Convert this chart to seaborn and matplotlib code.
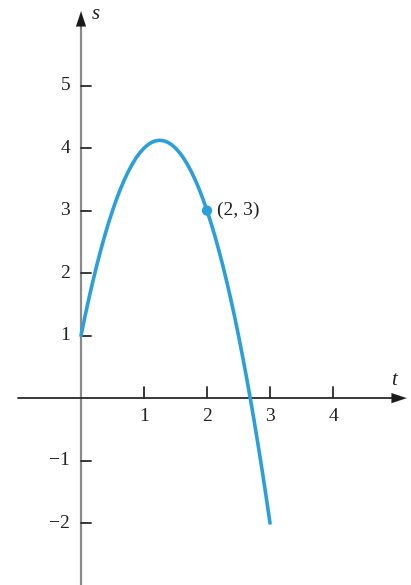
import matplotlib
matplotlib.use("Agg")
import matplotlib.pyplot as plt
import seaborn as sns
import pandas as pd

# Position s versus time t
t_values = [0, 0.0625, 0.125, 0.1875, 0.25, 0.3125, 0.375, 0.4375, 0.5,
            0.5625, 0.625, 0.6875, 0.75, 0.8125, 0.875, 0.9375, 1.0,
            1.0625, 1.125, 1.1875, 1.25, 1.3125, 1.375, 1.4375, 1.5,
            1.5625, 1.625, 1.6875, 1.75, 1.8125, 1.875, 1.9375, 2.0,
            2.0625, 2.125, 2.1875, 2.25, 2.3125, 2.375, 2.4375, 2.5,
            2.5625, 2.625, 2.6875, 2.75, 2.8125, 2.875, 2.9375, 3.0]
s_values = [1.0, 1.305, 1.594, 1.867, 2.125, 2.367, 2.594, 2.805, 3.0,
            3.180, 3.344, 3.492, 3.625, 3.742, 3.844, 3.930, 4.0,
            4.055, 4.094, 4.117, 4.125, 4.117, 4.094, 4.055, 4.0,
            3.930, 3.844, 3.742, 3.625, 3.492, 3.344, 3.180, 3.0,
            2.805, 2.594, 2.367, 2.125, 1.867, 1.594, 1.305, 1.0,
            0.680, 0.344, -0.008, -0.375, -0.758, -1.156, -1.570, -2.0]
point_t = [2]
point_s = [3]
point_label = "(2, 3)"
x_ticks = [1, 2, 3, 4]
y_ticks = [-2, -1, 1, 2, 3, 4, 5]

curve = pd.DataFrame({"t": t_values, "s": s_values})
marked = pd.DataFrame({"t": point_t, "s": point_s})

sns.set_theme(style="white")
plt.rcParams["font.family"] = ["Liberation Serif", "DejaVu Serif"]

blue = "#2b9fd9"
fig = plt.figure(figsize=(4.11, 5.85), dpi=100)
ax = fig.add_axes([0, 0, 1, 1])
ax.set_xlim(-1.286, 5.238)
ax.set_ylim(-2.99, 6.37)
ax.axis("off")

# coordinate axes
ax.plot([0, 0], [-3.1, 6.0], color="#8a8a8a", lw=1.6, zorder=1)
ax.plot([-1.0, 5.0], [0, 0], color="#2a2a2a", lw=1.3, zorder=1)
ax.annotate("", xy=(0, 6.19), xytext=(0, 5.9),
            arrowprops=dict(arrowstyle="-|>,head_length=0.9,head_width=0.3",
                            color="#1a1a1a", lw=0.1, shrinkA=0, shrinkB=0))
ax.annotate("", xy=(5.17, 0), xytext=(4.9, 0),
            arrowprops=dict(arrowstyle="-|>,head_length=0.9,head_width=0.3",
                            color="#1a1a1a", lw=0.1, shrinkA=0, shrinkB=0))

# ticks and tick labels
tick_len_x = 10 / 63.0
tick_len_y = 10 / 62.5
for xt in x_ticks:
    ax.plot([xt, xt], [0, tick_len_y * 1.1], color="#2a2a2a", lw=1.3)
    ax.text(xt, -0.3, str(xt), ha="center", va="center", fontsize=14,
            color="#222222")
for yt in y_ticks:
    ax.plot([0, tick_len_x], [yt, yt], color="#2a2a2a", lw=1.3)
    label = str(yt) if yt > 0 else "\u2212" + str(-yt)
    ax.text(-0.17, yt, label, ha="right", va="center", fontsize=14,
            color="#222222")

ax.text(0.24, 6.13, "s", fontsize=15, style="italic", ha="center",
        va="center", color="#222222")
ax.text(4.97, 0.28, "t", fontsize=15, style="italic", ha="center",
        va="center", color="#222222")

# curve and marked point
sns.lineplot(data=curve, x="t", y="s", ax=ax, color=blue, lw=2.6,
             sort=False, zorder=3)
sns.scatterplot(data=marked, x="t", y="s", ax=ax, color=blue, s=55,
                edgecolor="none", zorder=4)
ax.text(point_t[0] + 0.16, point_s[0], point_label, fontsize=14,
        ha="left", va="center", color="#222222")

ax.set_xlim(-1.286, 5.238)
ax.set_ylim(-2.99, 6.37)
fig.savefig("out.png", dpi=100)
